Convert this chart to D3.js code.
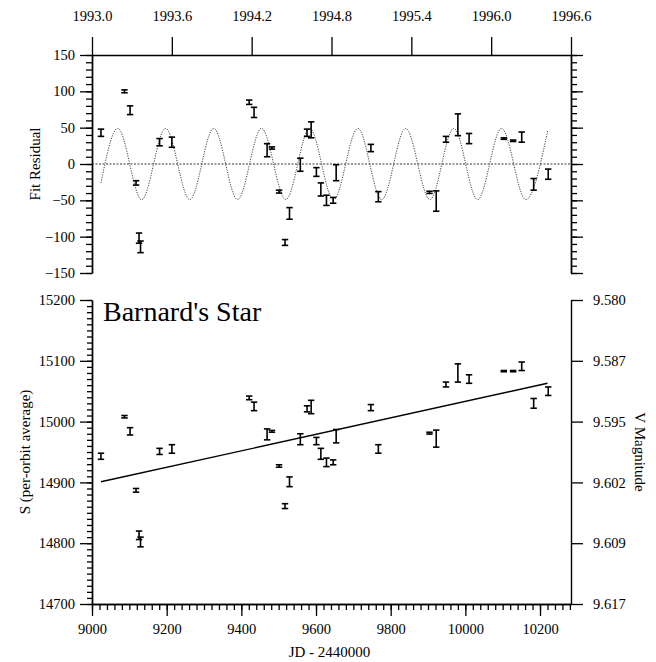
<!DOCTYPE html>
<html><head><meta charset="utf-8">
<script src="https://cdn.jsdelivr.net/npm/d3@7"></script>
</head><body style="margin:0">
<svg id="chart" width="656" height="662"></svg>
<script>
// ---- data ----
const jd = [9024, 9087, 9102, 9118, 9126, 9130, 9181, 9214, 9421, 9434, 9469, 9482, 9501, 9517, 9529, 9558, 9576, 9587, 9601, 9613, 9628, 9646, 9654, 9747, 9767, 9904, 9922, 9948, 9980, 10010, 10103, 10128, 10151, 10183, 10222];
const sAvg = [14943, 15008, 14984, 14887, 14813, 14802, 14951, 14955, 15039, 15025, 14979, 14984, 14927, 14861, 14901, 14971, 15021, 15024, 14968, 14947, 14933, 14933, 14976, 15023, 14955, 14981, 14972, 15061, 15080, 15070, 15083, 15083, 15091, 15030, 15050];
const sErr = [5, 2, 6, 3, 7, 8, 5, 7, 3, 7, 9, 1.5, 2, 4, 8, 9, 5, 11, 6, 9, 7, 4, 11, 5, 7, 1.5, 14, 4, 15, 7, 1, 1, 7, 8, 7];
const resid = [43, 100, 74, -26, -102, -114, 30, 30, 85, 71, 19, 22, -38, -108, -68, -1, 43, 47, -11, -35, -50, -50, -12, 22, -45, -39, -51, 34, 54, 35, 35, 32, 37, -28, -14];
// linear fit (end points)
const fitJD = [9024, 10220];
const fitS = [14901, 15063];
// sinusoidal fit: extrema
const sineJD = [9024, 9069, 9133, 9197, 9262, 9326, 9390, 9454, 9519, 9583, 9647, 9712, 9776, 9840, 9905, 9969, 10033, 10097, 10162, 10221];
const sineVal = [-26, 49, -49, 49, -49, 49, -49, 49, -49, 49, -49, 49, -49, 49, -49, 49, -49, 49, -49, 47];
// tick labels
const yearTicks = [1993.0, 1993.6, 1994.2, 1994.8, 1995.4, 1996.0, 1996.6];
const residTicks = [150, 100, 50, 0, -50, -100, -150];
const sTicks = [15200, 15100, 15000, 14900, 14800, 14700];
const vMagLabels = ["9.580", "9.587", "9.595", "9.602", "9.609", "9.617"];
const jdTicks = [9000, 9200, 9400, 9600, 9800, 10000, 10200];

// ---- layout ----
const FONT = "Liberation Serif";
const svg = d3.select("#chart");
const L = 92, R = 571;
const x = d3.scaleLinear().domain([9000, 10283]).range([L, R]);
const xYear = d3.scaleLinear().domain([1993.0, 1996.6]).range([L, R]);
const yR = d3.scaleLinear().domain([-150, 150]).range([273, 55]);
const yS = d3.scaleLinear().domain([14700, 15200]).range([604, 300]);

function styleAxis(g){
  g.attr("font-family", FONT).attr("font-size", 14.5);
  g.selectAll("path.domain").attr("stroke","#000").attr("stroke-width",1.4);
  g.selectAll(".tick line").attr("stroke","#000").attr("stroke-width",1.3);
  g.selectAll("text").attr("font-family",FONT).attr("font-size",14.5).attr("fill","#000");
}

// ===== top panel =====
svg.append("g").attr("transform",`translate(0,${yR(150)})`)
  .call(d3.axisTop(xYear).tickValues(yearTicks).tickSize(18).tickSizeOuter(0).tickPadding(16).tickFormat(d3.format(".1f")))
  .call(styleAxis);
svg.append("g").attr("transform",`translate(${L},0)`)
  .call(d3.axisLeft(yR).tickValues(d3.range(-150,151,10)).tickSize(6).tickSizeOuter(0).tickFormat(""))
  .call(styleAxis);
svg.append("g").attr("transform",`translate(${L},0)`)
  .call(d3.axisLeft(yR).tickValues(residTicks).tickSize(12).tickSizeOuter(0).tickPadding(5).tickFormat(d3.format("d")))
  .call(styleAxis);
svg.append("g").attr("transform",`translate(${R},0)`)
  .call(d3.axisRight(yR).tickValues(d3.range(-150,151,10)).tickSize(6).tickSizeOuter(0).tickFormat(""))
  .call(styleAxis);
svg.append("g").attr("transform",`translate(${R},0)`)
  .call(d3.axisRight(yR).tickValues(residTicks).tickSize(12).tickSizeOuter(0).tickFormat(""))
  .call(styleAxis);

svg.append("line").attr("x1",L).attr("x2",R).attr("y1",yR(0)).attr("y2",yR(0))
  .attr("stroke","#333").attr("stroke-width",1).attr("stroke-dasharray","2,1.5");
svg.append("path")
  .datum(sineJD.map((d,i)=>[d,sineVal[i]]))
  .attr("d", d3.line().x(d=>x(d[0])).y(d=>yR(d[1])).curve(d3.curveMonotoneX))
  .attr("fill","none").attr("stroke","#444").attr("stroke-width",1).attr("stroke-dasharray","1.2,1.3");

function errorBars(g, yScale, vals){
  const cap = 3.2;
  const grp = g.selectAll("g.eb").data(jd.map((d,i)=>({x:d, y:vals[i], e:sErr[i]}))).join("g").attr("class","eb");
  grp.append("line").attr("x1",d=>x(d.x)).attr("x2",d=>x(d.x))
    .attr("y1",d=>yScale(d.y+d.e)).attr("y2",d=>yScale(d.y-d.e))
    .attr("stroke","#000").attr("stroke-width",1.6);
  grp.append("line").attr("x1",d=>x(d.x)-cap).attr("x2",d=>x(d.x)+cap)
    .attr("y1",d=>yScale(d.y+d.e)).attr("y2",d=>yScale(d.y+d.e))
    .attr("stroke","#000").attr("stroke-width",1.6);
  grp.append("line").attr("x1",d=>x(d.x)-cap).attr("x2",d=>x(d.x)+cap)
    .attr("y1",d=>yScale(d.y-d.e)).attr("y2",d=>yScale(d.y-d.e))
    .attr("stroke","#000").attr("stroke-width",1.6);
}
errorBars(svg.append("g"), yR, resid);

// ===== bottom panel =====
svg.append("g").attr("transform",`translate(${L},0)`)
  .call(d3.axisLeft(yS).tickValues(d3.range(14700,15201,10)).tickSize(5).tickSizeOuter(0).tickFormat(""))
  .call(styleAxis);
svg.append("g").attr("transform",`translate(${L},0)`)
  .call(d3.axisLeft(yS).tickValues(sTicks).tickSize(12).tickSizeOuter(0).tickPadding(5).tickFormat(d3.format("d")))
  .call(styleAxis);
svg.append("g").attr("transform",`translate(${R},0)`)
  .call(d3.axisRight(yS).tickValues(sTicks).tickSize(12).tickSizeOuter(0).tickPadding(10)
    .tickFormat((d,i)=>vMagLabels[i]))
  .call(styleAxis);
svg.append("g").attr("transform",`translate(0,${yS(14700)})`)
  .call(d3.axisBottom(x).tickValues(d3.range(9000,10281,20)).tickSize(6).tickSizeOuter(0).tickFormat(""))
  .call(styleAxis);
svg.append("g").attr("transform",`translate(0,${yS(14700)})`)
  .call(d3.axisBottom(x).tickValues(jdTicks).tickSize(12).tickSizeOuter(0).tickPadding(8).tickFormat(d3.format("d")))
  .call(styleAxis);

svg.append("path").datum(fitJD.map((d,i)=>[d,fitS[i]]))
  .attr("d", d3.line().x(d=>x(d[0])).y(d=>yS(d[1])))
  .attr("fill","none").attr("stroke","#000").attr("stroke-width",1.4);
errorBars(svg.append("g"), yS, sAvg);

// ===== titles =====
const titles = [
  {t:"Fit Residual", x:35, y:yR(0), rot:-90, size:15, anchor:"middle"},
  {t:"S (per-orbit average)", x:25, y:452, rot:-90, size:15, anchor:"middle"},
  {t:"V Magnitude", x:640, y:452, rot:90, size:15, anchor:"middle"},
  {t:"JD - 2440000", x:(L+R)/2-2, y:657, rot:0, size:15, anchor:"middle"},
  {t:"Barnard's Star", x:103, y:321, rot:0, size:28, anchor:"start"}
];
svg.append("g").selectAll("text").data(titles).join("text")
  .attr("transform",d=>`translate(${d.x},${d.y}) rotate(${d.rot})`)
  .attr("text-anchor",d=>d.anchor)
  .attr("dy",d=>d.rot ? "0.35em" : null)
  .attr("font-family",FONT)
  .attr("font-size",d=>d.size)
  .attr("fill","#000")
  .text(d=>d.t);
</script>
</body></html>
